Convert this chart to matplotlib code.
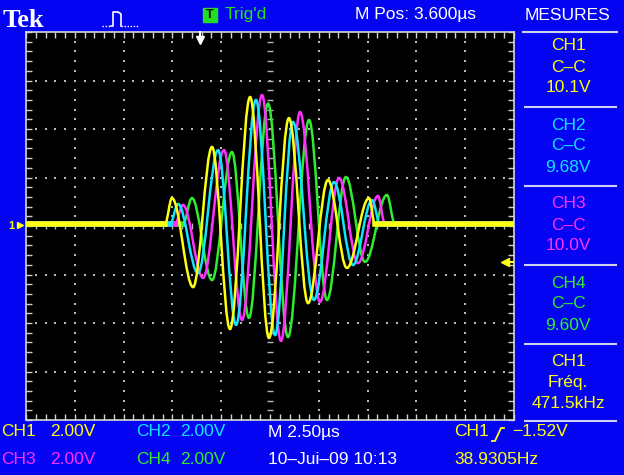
import numpy as np
import matplotlib.pyplot as plt
from matplotlib.path import Path
from matplotlib.patches import Rectangle, PathPatch

BLUE = "#0404f2"
C_CH1 = "#ffff10"
C_CH2 = "#10e4ff"
C_CH3 = "#ff30ff"
C_CH4 = "#30ec30"
GRID = "#b8b8b8"
FONT = ["Liberation Sans Narrow", "Liberation Sans", "DejaVu Sans"]

# traces: time in us (0..25 across screen), volts (2 V/div)
t_ch1 = [0, 7.12, 7.48, 8.56, 9.53, 10.45, 11.48, 12.45, 13.47, 14.45, 15.47, 16.44, 17.57, 17.88, 25]
v_ch1 = [0.08, 0.08, 1.15, -2.52, 3.26, -4.25, 5.32, -4.62, 4.45, -3.18, 1.90, -1.73, 1.15, 0.08, 0.08]

t_ch2 = [0, 7.38, 7.79, 8.81, 9.84, 10.76, 11.78, 12.76, 13.68, 14.75, 15.78, 16.75, 17.73, 18.14, 25]
v_ch2 = [0.08, 0.08, 0.91, -1.94, 3.13, -4.08, 5.20, -4.50, 4.29, -3.05, 1.81, -1.61, 1.07, 0.08, 0.08]

t_ch3 = [0, 7.63, 8.04, 9.07, 10.14, 11.07, 12.09, 13.06, 14.04, 15.06, 16.04, 17.01, 18.03, 18.39, 25]
v_ch3 = [0.08, 0.08, 0.87, -2.14, 3.13, -3.88, 5.40, -4.74, 4.70, -3.13, 1.98, -1.53, 1.24, 0.08, 0.08]

t_ch4 = [0, 8.04, 8.50, 9.53, 10.55, 11.42, 12.40, 13.42, 14.50, 15.42, 16.39, 17.37, 18.49, 18.90, 25]
v_ch4 = [0.08, 0.08, 1.15, -2.23, 3.05, -3.79, 5.05, -4.58, 4.37, -3.05, 2.02, -1.48, 1.28, 0.08, 0.08]

meas_title = ["CH1", "CH2", "CH3", "CH4", "CH1"]
meas_type = ["C\u2013C", "C\u2013C", "C\u2013C", "C\u2013C", "Fréq."]
meas_value = ["10.1V", "9.68V", "10.0V", "9.60V", "471.5kHz"]
meas_color = [C_CH1, C_CH2, C_CH3, C_CH4, C_CH1]

W, H = 624, 475
fig = plt.figure(figsize=(W / 100, H / 100), dpi=100, facecolor=BLUE)

# scope screen: 10 x 8 divisions
ax = fig.add_axes([26 / W, 1 - 420 / H, 488 / W, 388 / H], zorder=1)
ax.set_facecolor("black")
ax.set_xlim(0, 25)
ax.set_ylim(-8, 8)
for s in ax.spines.values():
    s.set_color("#d8d8d8")
    s.set_linewidth(1.2)
ax.set_xticks(np.arange(0, 25.01, 2.5))
ax.set_yticks(np.arange(-8, 8.01, 2))
ax.set_xticks(np.arange(0, 25.01, 0.5), minor=True)
ax.set_yticks(np.arange(-8, 8.01, 0.4), minor=True)
ax.tick_params(which="both", direction="in", length=4, width=1, color="#d0d0d0",
               top=True, right=True, labelbottom=False, labelleft=False)

# dotted graticule
ys = np.arange(-7.6, 7.61, 0.4)
xs = np.arange(0.5, 24.6, 0.5)
for gx in np.arange(2.5, 24, 2.5):
    if abs(gx - 12.5) > 0.01:
        ax.scatter(np.full(len(ys), gx), ys, s=2.2, marker="s", color=GRID, lw=0, zorder=2)
for gy in np.arange(-6, 6.1, 2):
    if abs(gy) > 0.01:
        ax.scatter(xs, np.full(len(xs), gy), s=2.2, marker="s", color=GRID, lw=0, zorder=2)
# centre crosshair with small ticks
ax.plot(np.full(len(ys), 12.5), ys, ls="none", marker="_", ms=5, mew=1, color=GRID, zorder=2)
ax.plot(xs, np.zeros(len(xs)), ls="none", marker="|", ms=5, mew=1, color=GRID, zorder=2)


def smooth_path(t, v, k=0.36):
    # cubic segments with flat tangents at each read-off extremum
    verts = [(t[0], v[0])]
    codes = [Path.MOVETO]
    for i in range(1, len(t)):
        dt = t[i] - t[i - 1]
        verts += [(t[i - 1] + k * dt, v[i - 1]), (t[i] - k * dt, v[i]), (t[i], v[i])]
        codes += [Path.CURVE4] * 3
    return Path(verts, codes)


# traces
traces = [(t_ch4, v_ch4, C_CH4), (t_ch3, v_ch3, C_CH3), (t_ch2, v_ch2, C_CH2), (t_ch1, v_ch1, C_CH1)]
for t, v, c in traces:
    ax.add_patch(PathPatch(smooth_path(t, v), fill=False, edgecolor=c, lw=1.8, zorder=4))
    ax.plot(t[:2], v[:2], color=c, lw=4, zorder=4)
    ax.plot(t[-2:], v[-2:], color=c, lw=4, zorder=4)

# overlay in pixel coordinates for the instrument text
ov = fig.add_axes([0, 0, 1, 1], zorder=3)
ov.set_xlim(0, W)
ov.set_ylim(H, 0)
ov.axis("off")
ov.patch.set_visible(False)


def txt(x, y, s, c="white", size=12.5, ha="left", **kw):
    ov.text(x, y, s, color=c, fontsize=size, ha=ha, va="center", family=FONT, **kw)


# header
ov.text(3, 27, "Tek", color="white", fontsize=19, fontweight="bold",
        family=["Liberation Serif", "DejaVu Serif"], va="baseline")
ov.plot([102, 111], [26, 26], color="white", lw=1, ls=(0, (1, 1.2)))
ov.plot([111, 113, 113, 118, 121, 121], [26, 26, 12, 12, 14, 26], color="white", lw=1.2)
ov.plot([121, 138], [26, 26], color="white", lw=1, ls=(0, (1, 1.2)))
ov.add_patch(Rectangle((203, 8), 14, 14, color="#22dd22"))
txt(210, 15.5, "T", c="black", size=9, ha="center", fontweight="bold")
txt(225, 14, "Trig'd", c="#22e022")
txt(355, 14, "M Pos: 3.600\u00b5s")
txt(568, 15, "MESURES", ha="center")
ov.plot([523, 617], [32, 32], color="#d0d0f0", lw=1.5)

# trigger markers
ov.plot([200, 200], [32, 37], color="white", lw=1.5)
ov.plot([200], [40], marker="v", ms=6, color="white", ls="none")
ov.plot([505, 513], [262, 262], color=C_CH1, lw=1.5)
ov.plot([505], [262], marker="<", ms=6, color=C_CH1, ls="none")
txt(11, 226, "1", c=C_CH1, size=8, ha="center", fontweight="bold")
ov.plot([20], [225], marker=">", ms=4, color=C_CH1, ls="none")

# measurement panel
for i in range(5):
    y0 = 46 + 79 * i
    txt(568, y0, meas_title[i], c=meas_color[i], ha="center")
    txt(568, y0 + 21, meas_type[i], c=meas_color[i], ha="center")
    txt(568, y0 + 42, meas_value[i], c=meas_color[i], ha="center")
    yl = 107 + 79 * i if i < 4 else 421
    ov.plot([525, 616], [yl, yl], color="#d0d0f0", lw=1.5)

# bottom status lines
txt(1, 432, "CH1", c=C_CH1)
txt(50, 432, "2.00V", c=C_CH1)
txt(136, 432, "CH2", c=C_CH2)
txt(180, 432, "2.00V", c=C_CH2)
txt(268, 432, "M 2.50\u00b5s")
txt(454, 432, "CH1", c=C_CH1)
ov.plot([492, 495, 501, 504], [441, 441, 428, 428], color=C_CH1, lw=1.3)
txt(512, 432, "\u22121.52V", c=C_CH1)
txt(1, 459, "CH3", c=C_CH3)
txt(50, 459, "2.00V", c=C_CH3)
txt(136, 459, "CH4", c=C_CH4)
txt(180, 459, "2.00V", c=C_CH4)
txt(268, 459, "10\u2013Jui\u201309 10:13")
txt(454, 459, "38.9305Hz", c=C_CH1)

fig.savefig("out.png", dpi=100, facecolor=fig.get_facecolor())
